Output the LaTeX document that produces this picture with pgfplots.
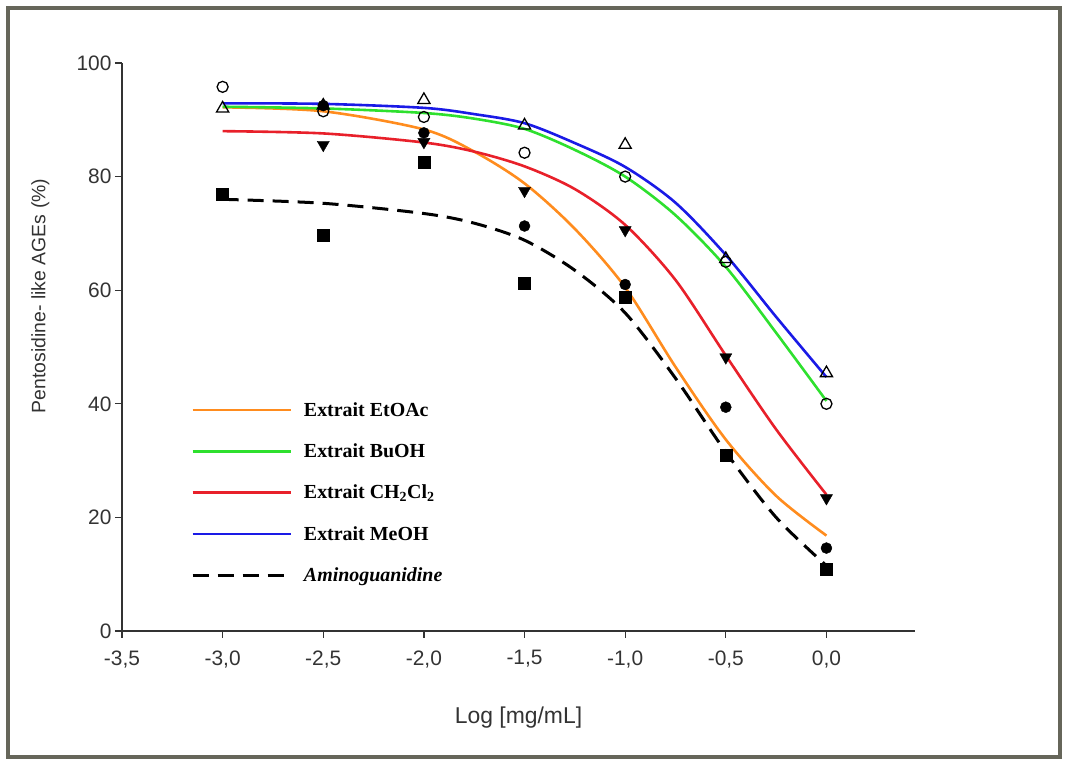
\documentclass[border=0pt]{standalone}
\usepackage{fontspec}
\setmainfont{Liberation Sans}
\newfontfamily\legfont{Liberation Serif}
\usepackage{pgfplots}
\pgfplotsset{compat=1.18}
\definecolor{axgray}{HTML}{333333}
\definecolor{cOrange}{HTML}{FF8C1E}
\definecolor{cGreen}{HTML}{2EE02E}
\definecolor{cRed}{HTML}{E8202A}
\definecolor{cBlue}{HTML}{1A1AE6}
\definecolor{frameclr}{HTML}{66665A}
\begin{document}
\begin{tikzpicture}
\begin{axis}[
  at={(0,0)}, anchor=south west,
  width=793bp, height=568bp, scale only axis,
  xmin=-3.5, xmax=0.44, ymin=0, ymax=100,
  axis lines*=left,
  axis line style={-, axgray, line width=1.5bp},
  tick align=outside,
  major tick length=7bp,
  tick style={axgray, line width=1.3bp},
  xtick={-3.5,-3,-2.5,-2,-1.5,-1,-0.5,0},
  xticklabels={{-3,5},{-3,0},{-2,5},{-2,0},{-1,5},{-1,0},{-0,5},{0,0}},
  ytick={0,20,40,60,80,100},
  yticklabels={0,20,40,60,80,100},
  tick label style={font=\fontsize{21}{24}\selectfont, text=axgray},
  xticklabel style={yshift=-9bp},
  xlabel={Log [mg/mL]},
  ylabel={Pentosidine- like AGEs (\%)},
  every axis x label/.style={at={(axis description cs:0.5,-0.153)}, anchor=center,
    font=\fontsize{23}{27}\selectfont, text=axgray},
  every axis y label/.style={at={(axis description cs:-0.103,0.59)}, anchor=center, rotate=90,
    font=\fontsize{19.5}{24}\selectfont, text=axgray},
  clip=false,
  legend style={at={(axis description cs:0.083,0.41)}, anchor=north west, draw=none, fill=none,
    font=\legfont\bfseries\fontsize{20}{24}\selectfont, row sep=22bp},
  legend cell align=left,
  legend image code/.code={\draw[#1, mark=none] (0bp,0bp) -- (98bp,0bp);},
  legend style={/tikz/every odd column/.append style={column sep=10bp}},
]
% fitted curves
\addplot[cOrange, line width=2.6bp, smooth] coordinates {
(-3,92.2) (-2.5,91.5) (-2,88.3) (-1.75,84.4) (-1.5,78.8) (-1.25,70.8) (-1,60.5) (-0.75,46.5) (-0.5,33.7) (-0.25,23.8) (0,16.8)};
\addlegendentry{Extrait EtOAc}
\addplot[cGreen, line width=2.6bp, smooth] coordinates {
(-3,92.3) (-2.5,92.0) (-2,91.2) (-1.75,90.2) (-1.5,88.4) (-1.25,84.7) (-1,80.0) (-0.75,73.2) (-0.5,64.1) (-0.25,52.5) (0,40.5)};
\addlegendentry{Extrait BuOH}
\addplot[cRed, line width=2.6bp, smooth] coordinates {
(-3,88.0) (-2.5,87.6) (-2,86.0) (-1.75,84.4) (-1.5,81.8) (-1.25,77.8) (-1,71.5) (-0.75,61.8) (-0.5,48.5) (-0.25,35.5) (0,24.0)};
\addlegendentry{Extrait CH\textsubscript{2}Cl\textsubscript{2}}
\addplot[cBlue, line width=2.6bp, smooth] coordinates {
(-3,92.9) (-2.5,92.8) (-2,92.1) (-1.75,91.0) (-1.5,89.4) (-1.25,85.9) (-1,81.7) (-0.75,75.4) (-0.5,66.2) (-0.25,55.3) (0,44.7)};
\addlegendentry{Extrait MeOH}
\addplot[black, line width=3bp, dash pattern=on 16bp off 9bp, smooth] coordinates {
(-3,76.0) (-2.5,75.3) (-2,73.5) (-1.75,71.8) (-1.5,68.8) (-1.25,63.5) (-1,56.0) (-0.75,44.5) (-0.5,31.5) (-0.25,20.0) (0,11.5)};
\addlegendentry{\itshape Aminoguanidine}
% data points
\addplot[only marks, mark=o, mark size=5.5bp, mark options={black, line width=1.3bp, fill=white}, forget plot] coordinates {
(-3,95.8) (-2.5,91.5) (-2,90.5) (-1.5,84.2) (-1,80.0) (-0.5,65.0) (0,40.0)};
\addplot[only marks, mark=triangle, mark size=7bp, mark options={black, line width=1.3bp, fill=white}, forget plot] coordinates {
(-3,92.0) (-2.5,92.5) (-2,93.5) (-1.5,89.0) (-1,85.6) (-0.5,65.5) (0,45.4)};
\addplot[only marks, mark=triangle*, mark size=7bp, mark options={black, rotate=180}, forget plot] coordinates {
(-2.5,85.6) (-2,86.1) (-1.5,77.5) (-1,70.6) (-0.5,48.2) (0,23.4)};
\addplot[only marks, mark=*, mark size=5.5bp, mark options={black}, forget plot] coordinates {
(-2.5,92.5) (-2,87.7) (-1.5,71.3) (-1,61.0) (-0.5,39.4) (0,14.6)};
\addplot[only marks, mark=square*, mark size=6bp, mark options={black}, forget plot] coordinates {
(-3,76.9) (-2.5,69.7) (-2,82.6) (-1.5,61.3) (-1,58.8) (-0.5,31.0) (0,10.9)};
\end{axis}
\draw[frameclr, line width=4bp] (-114bp,-126bp) rectangle (938bp,623bp);
\path (-122bp,-135bp) rectangle (946bp,631bp);
\end{tikzpicture}
\end{document}
